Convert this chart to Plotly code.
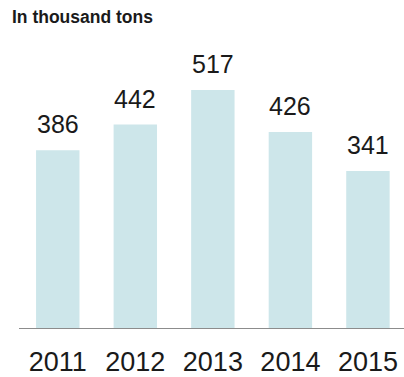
import plotly.graph_objects as go

years = ["2011", "2012", "2013", "2014", "2015"]
volumes = [386, 442, 517, 426, 341]
unit_title = "In thousand tons"

BAR_COLOR = "#cde6ea"
TEXT_COLOR = "#1a1a1a"

fig = go.Figure(
    go.Bar(
        x=years,
        y=volumes,
        width=0.56,
        marker=dict(color=BAR_COLOR, line=dict(width=0)),
        hoverinfo="skip",
    )
)

# value labels floating above each bar (x given as category index)
for i, v in enumerate(volumes):
    fig.add_annotation(
        x=i, y=v, text=str(v), showarrow=False,
        xanchor="center", yanchor="bottom", yshift=10,
        font=dict(family="Liberation Sans, Arial", size=25, color=TEXT_COLOR),
    )

fig.add_annotation(
    x=0, y=1, xref="paper", yref="paper", xanchor="left", yanchor="top",
    text=f"<b>{unit_title}</b>", showarrow=False,
    xshift=-9, yshift=35,
    font=dict(family="Liberation Sans, Arial", size=17.5, color=TEXT_COLOR),
)

fig.update_layout(
    width=404, height=377,
    margin=dict(l=19, r=0, t=40, b=45),
    paper_bgcolor="white", plot_bgcolor="white",
    showlegend=False,
    xaxis=dict(
        type="category", range=[-0.5, 4.465],
        showline=True, linecolor="#8c8c8c", linewidth=1,
        showgrid=False, ticks="", zeroline=False,
        ticklabelstandoff=10,
        tickfont=dict(family="Liberation Sans, Arial", size=27, color=TEXT_COLOR),
        fixedrange=True,
    ),
    yaxis=dict(
        range=[0, 292 / 0.4667], visible=False, showgrid=False, zeroline=False,
        fixedrange=True,
    ),
)

fig.write_html("out.html")
